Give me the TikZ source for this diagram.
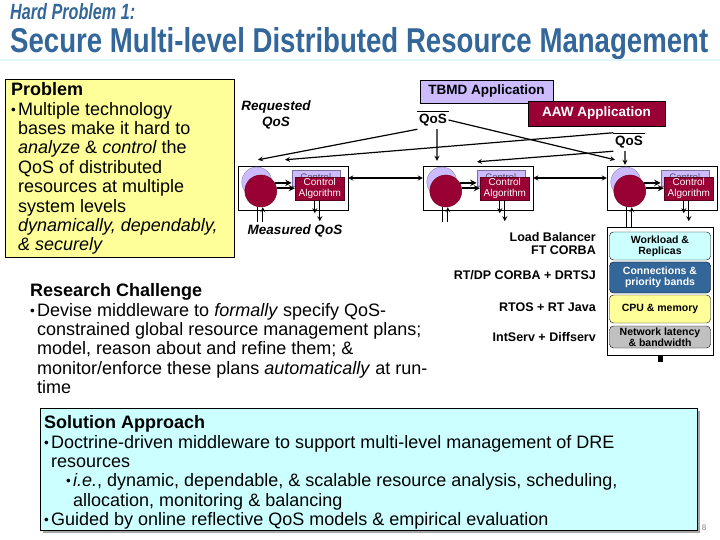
\documentclass[tikz,border=0pt]{standalone}
\usepackage{fontspec}
\setmainfont{Liberation Sans}
\usepackage{graphicx}
\usetikzlibrary{positioning,shadows}
\definecolor{titleblue}{RGB}{51,102,153}
\definecolor{lav}{RGB}{204,187,255}
\definecolor{wine}{RGB}{153,0,51}
\definecolor{paleyel}{RGB}{255,255,153}
\definecolor{palecyan}{RGB}{204,255,255}
\definecolor{steel}{RGB}{51,102,153}
\definecolor{silver}{RGB}{192,192,192}
\newcommand{\bl}{\makebox[7bp][l]{\raisebox{1bp}{\fontsize{13.5bp}{13.5bp}\selectfont\textbullet}}}
\newcommand{\ind}{\hspace*{7bp}}

\tikzset{
  body/.style={anchor=north west, inner sep=0pt, align=left, font=\fontsize{18bp}{19.4bp}\selectfont},
  unitbox/.style={draw, fill=white, minimum width=110bp, minimum height=44bp, inner sep=0pt},
  backcirc/.style={circle, draw=lav!70!black, fill=lav, minimum size=30bp, inner sep=0pt},
  frontcirc/.style={circle, draw=wine!70!black, fill=wine, minimum size=32bp, inner sep=0pt},
  backalg/.style={draw=lav!60!black, fill=lav, minimum width=48bp, minimum height=16bp, inner sep=0pt, text=lav!40!black, font=\fontsize{9.5bp}{10bp}\selectfont},
  frontalg/.style={draw=wine!60!black, fill=wine, minimum width=49bp, minimum height=23bp, inner sep=0pt, align=center, text=white, font=\fontsize{10bp}{10.5bp}\selectfont},
  lbl/.style={inner sep=0pt, font=\bfseries\fontsize{12.5bp}{13bp}\selectfont},
  qos/.style={inner xsep=1.5bp, inner ysep=3bp, font=\bfseries\fontsize{13.5bp}{14bp}\selectfont},
  appbox/.style={draw, inner sep=0pt, font=\bfseries\fontsize{13.5bp}{14bp}\selectfont},
  layer/.style={draw, rounded corners=4bp, minimum width=101bp, inner sep=0pt, align=center, font=\bfseries\fontsize{10.5bp}{11bp}\selectfont},
  arr/.style={->, >=stealth, line width=1.2bp},
  dblarr/.style={<->, >=stealth, line width=1.2bp},
  feed/.style={->, >=stealth, line width=1.8bp}
}

\begin{document}
\begin{tikzpicture}[x=1bp, y=-1bp]
\useasboundingbox (0,0) rectangle (720,540);

% title
\node[anchor=base west, inner sep=0pt, text=titleblue] (hard) at (10,20) {\resizebox{125bp}{16bp}{\bfseries\itshape Hard Problem 1:}};
\node[anchor=base west, inner sep=0pt, text=titleblue] (title) at (10,53) {\resizebox{698bp}{25bp}{\bfseries Secure Multi-level Distributed Resource Management}};
\draw[cyan!12, line width=2bp] (0,60) -- (720,60);

% problem
\node[draw, fill=paleyel, anchor=north west, minimum width=229bp, minimum height=178bp, inner sep=0pt] (probbox) at (5,79) {};
\node[body] (prob) at (11,82.5) {{\bfseries Problem}\\
\bl Multiple technology\\
\ind bases make it hard to\\
\ind \textit{analyze} \& \textit{control} the\\
\ind QoS of distributed\\
\ind resources at multiple\\
\ind system levels\\
\ind \textit{dynamically, dependably,}\\
\ind \textit{\& securely}};

% research challenge
\node[body] (chal) at (30,283.5) {{\bfseries Research Challenge}\\
\bl Devise middleware to \textit{formally} specify QoS-\\
\ind constrained global resource management plans;\\
\ind model, reason about and refine them; \&\\
\ind monitor/enforce these plans \textit{automatically} at run-\\
\ind time};

% solution approach
\node[draw, fill=palecyan, anchor=north west, minimum width=657bp, minimum height=122bp, inner sep=0pt,
  drop shadow={shadow xshift=3bp, shadow yshift=-3bp, fill=gray!70, opacity=1}] (solbox) at (40,408) {};
\node[body] (sol) at (44,415.5) {{\bfseries Solution Approach}\\
\bl Doctrine-driven middleware to support multi-level management of DRE\\
\ind resources\\
\hspace*{22bp}\bl\textit{i.e.}, dynamic, dependable, \& scalable resource analysis, scheduling,\\
\hspace*{29bp}allocation, monitoring \& balancing\\
\bl Guided by online reflective QoS models \& empirical evaluation};
\node[inner sep=0pt, text=gray, font=\fontsize{8bp}{8bp}\selectfont] (pg) at (704,528) {8};

% applications
\node[appbox, fill=lav, minimum width=133bp, minimum height=23bp] (tbmd) at (486.5,91.5) {TBMD Application};
\node[appbox, fill=wine, text=white, minimum width=137bp, minimum height=25bp] (aaw) at (596.5,113.5) {AAW Application};
\node[qos] (qosT) at (433,120) {QoS};
\draw (qosT.north west) -- (qosT.north east);
\node[qos] (qosA) at (629,142) {QoS};
\draw (qosA.north west) -- (qosA.north east);
\node[align=center, inner sep=0pt, font=\bfseries\itshape\fontsize{13.5bp}{16bp}\selectfont] (req) at (276,115) {Requested\\QoS};

% left control unit
\node[unitbox] (uL) at (293,188) {};
\node[backcirc, xshift=19bp, yshift=6bp] (bcL) at (uL.west) {};
\node[frontcirc, xshift=23bp, yshift=-3bp] (fcL) at (uL.west) {};
\node[backalg, xshift=78bp, yshift=10bp] (baL) at (uL.west) {\raisebox{1.5bp}{Control}};
\node[frontalg, xshift=82bp, yshift=-0.5bp] (faL) at (uL.west) {Control\\Algorithm};
\draw[feed] (fcL.30) -- (fcL.30 -| baL.west);
\draw[feed] (fcL.10) -- (fcL.10 -| faL.west);
\draw[line width=1.2bp] ([xshift=-3bp]fcL.south) -- ++(0,15);
\draw[arr] ([xshift=2bp,yshift=-15bp]fcL.south) -- ([xshift=2bp]fcL.south);
\draw[arr] ([xshift=-5bp]faL.south) -- ++(0,13);
\draw[arr] (faL.south) -- ++(0,21);
\node[inner sep=0pt, font=\bfseries\itshape\fontsize{13.5bp}{14bp}\selectfont] (meas) at (295,231) {Measured QoS};

% middle control unit
\node[unitbox] (uM) at (478,188) {};
\node[backcirc, xshift=19bp, yshift=6bp] (bcM) at (uM.west) {};
\node[frontcirc, xshift=23bp, yshift=-3bp] (fcM) at (uM.west) {};
\node[backalg, xshift=78bp, yshift=10bp] (baM) at (uM.west) {\raisebox{1.5bp}{Control}};
\node[frontalg, xshift=82bp, yshift=-0.5bp] (faM) at (uM.west) {Control\\Algorithm};
\draw[feed] (fcM.30) -- (fcM.30 -| baM.west);
\draw[feed] (fcM.10) -- (fcM.10 -| faM.west);
\draw[line width=1.2bp] ([xshift=-3bp]fcM.south) -- ++(0,15);
\draw[arr] ([xshift=2bp,yshift=-15bp]fcM.south) -- ([xshift=2bp]fcM.south);
\draw[arr] ([xshift=-5bp]faM.south) -- ++(0,13);
\draw[arr] (faM.south) -- ++(0,21);

% right control unit
\node[unitbox] (uR) at (662,188) {};
\node[backcirc, xshift=19bp, yshift=6bp] (bcR) at (uR.west) {};
\node[frontcirc, xshift=23bp, yshift=-3bp] (fcR) at (uR.west) {};
\node[backalg, xshift=78bp, yshift=10bp] (baR) at (uR.west) {\raisebox{1.5bp}{Control}};
\node[frontalg, xshift=82bp, yshift=-0.5bp] (faR) at (uR.west) {Control\\Algorithm};
\draw[feed] (fcR.30) -- (fcR.30 -| baR.west);
\draw[feed] (fcR.10) -- (fcR.10 -| faR.west);
\draw[line width=1.2bp] ([xshift=-3bp]fcR.south) -- ++(0,20);
\draw[arr] ([xshift=2bp,yshift=-20bp]fcR.south) -- ([xshift=2bp]fcR.south);
\draw[arr] ([xshift=-5bp]faR.south) -- ++(0,13);
\draw[arr] (faR.south) -- ++(0,21);

% links between units
\draw[dblarr] ([yshift=10bp]uL.east) -- ([yshift=10bp]uM.west);
\draw[dblarr] ([yshift=10bp]uM.east) -- ([yshift=10bp]uR.west);

% QoS requests
\draw[arr] (qosT.south west) -- ([xshift=-35bp,yshift=6bp]uL.north);
\draw[arr] ([xshift=4bp]qosT.south) -- ([xshift=-41bp,yshift=5bp]uM.north);
\draw[arr] (qosT.east) -- ([xshift=-47bp,yshift=6bp]uR.north);
\draw[arr] (qosA.north west) -- ([xshift=-8bp,yshift=6bp]uL.north);
\draw[arr] (qosA.south west) -- ([xshift=-1bp,yshift=4bp]uM.north);
\draw[arr] ([xshift=-4bp]qosA.south) -- ([xshift=-37bp,yshift=1bp]uR.north);

% resource layers
\node[draw, fill=white, minimum width=106bp, minimum height=128bp, inner sep=0pt] (stk) at (660,291) {};
\node[layer, fill=palecyan, minimum height=28bp] (wl) at (660,246) {Workload \&\\Replicas};
\node[layer, fill=steel, text=white, minimum height=31bp] (cn) at (660,277.5) {Connections \&\\priority bands};
\node[layer, fill=paleyel, minimum height=28bp] (cpu) at (660,309) {CPU \& memory};
\node[layer, fill=silver, minimum height=22bp] (net) at (660,337) {Network latency\\\& bandwidth};
\node[fill, anchor=north, minimum width=5bp, minimum height=7bp, inner sep=0pt] (tail) at (stk.south) {};

\node[lbl, anchor=east, align=right] (lb) at (596,243.5) {Load Balancer\\FT CORBA};
\node[lbl, anchor=east] (rtdp) at (596,275) {RT/DP CORBA + DRTSJ};
\node[lbl, anchor=east] (rtos) at (596,307) {RTOS + RT Java};
\node[lbl, anchor=east] (isv) at (596,337) {IntServ + Diffserv};
\end{tikzpicture}
\end{document}
